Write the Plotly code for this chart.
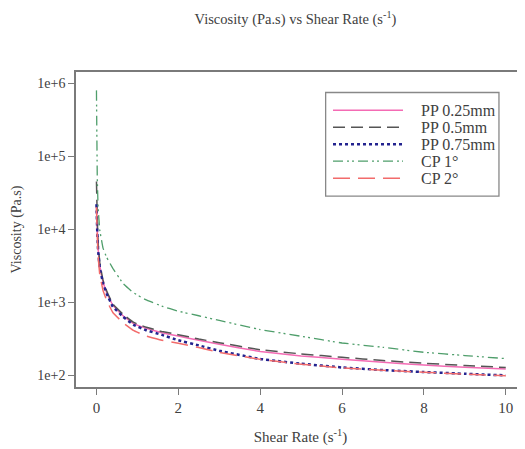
import plotly.graph_objects as go

shear_rate = [0, 0.02, 0.04, 0.08, 0.16, 0.25, 0.4, 0.65, 0.9, 1.2, 1.6, 2, 2.5, 3, 4, 5, 6, 7, 8, 9, 10]

pp_025 = [20000, 10000, 5500, 3200, 1900, 1350, 900, 650, 510, 440, 380, 342, 300, 265, 210, 183, 165, 150, 137, 128, 121]
pp_05 = [45000, 14000, 6500, 3500, 2000, 1420, 940, 680, 530, 455, 395, 358, 312, 278, 222, 195, 175, 158, 145, 135, 127]
pp_075 = [22000, 9000, 5100, 3000, 1820, 1300, 865, 630, 490, 415, 355, 300, 255, 215, 166, 143, 127, 117, 110, 104, 99]
cp_1 = [800000, 50000, 20000, 9800, 5500, 4100, 2900, 1800, 1350, 1080, 880, 750, 650, 560, 420, 340, 275, 240, 205, 185, 168]
cp_2 = [20000, 8000, 4300, 2400, 1450, 1050, 720, 520, 410, 345, 300, 272, 238, 205, 164, 141, 125, 116, 109, 103, 98]

series_names = ["PP 0.25mm", "PP 0.5mm", "PP 0.75mm", "CP 1°", "CP 2°"]
series_values = [pp_025, pp_05, pp_075, cp_1, cp_2]
colors = ["#f46bb4", "#555555", "#23238f", "#4f9e6b", "#f26b6b"]
dashes = ["solid", "12px,6px", "dot", "10px,4px,2px,3px,2px,4px", "17px,8px"]
widths = [1.5, 1.5, 2.5, 1.3, 1.5]

y_tickvals = [1e2, 1e3, 1e4, 1e5, 1e6]
y_ticktext = ["1e+2", "1e+3", "1e+4", "1e+5", "1e+6"]
x_tickvals = [0, 2, 4, 6, 8, 10]

FONT = "Liberation Serif, Times New Roman, serif"
TXT = "#404040"
AX = "#7a7a7a"

fig = go.Figure()
for name, vals, c, d, w in zip(series_names, series_values, colors, dashes, widths):
    fig.add_trace(go.Scatter(x=shear_rate, y=vals, mode="lines", name=name,
                             line=dict(color=c, dash=d, width=w, shape="spline", smoothing=0.2),
                             showlegend=False))

# manual legend
shapes = [dict(type="rect", xref="paper", yref="paper", x0=0.556, x1=0.942, y0=0.606, y1=0.935,
               line=dict(color="#888888", width=1.3), fillcolor="white")]
annotations = []
rows_y = [0.8785, 0.8246, 0.7707, 0.7168, 0.6629]
for name, c, d, w, yy in zip(series_names, colors, dashes, widths, rows_y):
    shapes.append(dict(type="line", xref="paper", yref="paper", x0=0.5724, x1=0.7283, y0=yy, y1=yy,
                       line=dict(color=c, dash=d, width=w)))
    annotations.append(dict(xref="paper", yref="paper", x=0.764, y=yy, text=name, showarrow=False,
                            xanchor="left", yanchor="middle", font=dict(family=FONT, size=16, color=TXT)))

# the page adds an 8px body margin, so the figure is sized to fit the window
fig.update_layout(
    width=517, height=441,
    margin=dict(l=68, r=0, t=64, b=62),
    paper_bgcolor="white", plot_bgcolor="white",
    font=dict(family=FONT, size=14, color=TXT),
    title=dict(text="Viscosity (Pa.s) vs Shear Rate (s<sup>-1</sup>)", x=0.556, xanchor="center",
               y=0.976, yanchor="middle", font=dict(family=FONT, size=14.5, color=TXT)),
    shapes=shapes, annotations=annotations,
)
fig.update_xaxes(range=[-0.5, 10.47], tickvals=x_tickvals, ticks="outside", ticklen=6, tickcolor=AX,
                 showline=True, linecolor=AX, linewidth=1.5, mirror=True, showgrid=False, zeroline=False,
                 automargin=False,
                 title=dict(text="Shear Rate (s<sup>-1</sup>)", font=dict(family=FONT, size=15, color=TXT), standoff=17),
                 tickfont=dict(family=FONT, size=15, color=TXT))
fig.update_yaxes(type="log", range=[1.836, 6.155], tickvals=y_tickvals, ticktext=y_ticktext,
                 ticks="outside", ticklen=6, tickcolor=AX, showline=True, linecolor=AX, linewidth=1.5,
                 showgrid=False, zeroline=False, automargin=False,
                 title=dict(text="Viscosity (Pa.s)", font=dict(family=FONT, size=14, color=TXT), standoff=12),
                 tickfont=dict(family=FONT, size=14, color=TXT))

fig.write_html("out.html")
